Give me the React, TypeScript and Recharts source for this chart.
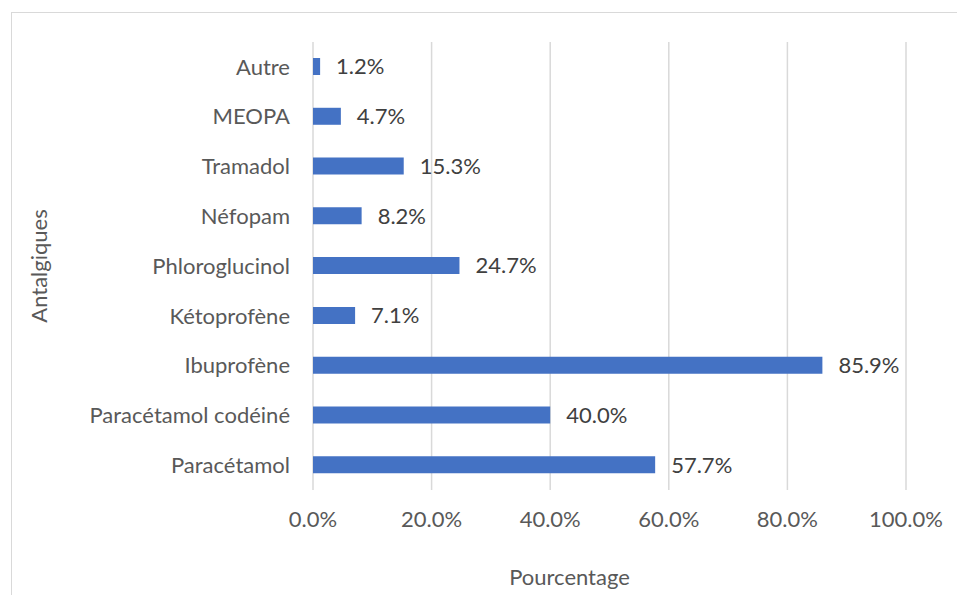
import { Bar, BarChart, CartesianGrid, LabelList, XAxis, YAxis } from "recharts";

// Antalgiques, de haut en bas
const categories = [
	"Autre",
	"MEOPA",
	"Tramadol",
	"Néfopam",
	"Phloroglucinol",
	"Kétoprofène",
	"Ibuprofène",
	"Paracétamol codéiné",
	"Paracétamol",
];
const percentages = [1.2, 4.7, 15.3, 8.2, 24.7, 7.1, 85.9, 40.0, 57.7];
const xTicks = [0, 20, 40, 60, 80, 100];

const FONT = "Lato, 'Open Sans', sans-serif";
const TEXT = "#595959";
const SIZE = 22;

const data = categories.map((name, i) => ({ name, value: percentages[i] }));

const fmt = (v: number) => `${Number(v).toFixed(1)}%`;

const XTitle = ({ viewBox }: any) => {
	const x = viewBox.x + viewBox.width / 2 - 40;
	const y = viewBox.y + 95;
	return (
		<text x={x} y={y} textAnchor="middle" fill={TEXT} fontSize={SIZE} fontFamily={FONT}>
			Pourcentage
		</text>
	);
};

const YTitle = ({ viewBox }: any) => {
	const x = viewBox.x + 28;
	const y = viewBox.y + viewBox.height / 2;
	return (
		<text
			x={x}
			y={y}
			textAnchor="middle"
			dominantBaseline="central"
			transform={`rotate(-90, ${x}, ${y})`}
			fill={TEXT}
			fontSize={SIZE}
			fontFamily={FONT}
		>
			Antalgiques
		</text>
	);
};

export default function App() {
	return (
		<div
			style={{
				position: "relative",
				width: 965,
				height: 603,
				margin: -8,
				overflow: "hidden",
				background: "#fff",
				fontFamily: FONT,
			}}
		>
			<div
				style={{
					position: "absolute",
					left: 11,
					top: 12,
					width: 1100,
					height: 800,
					border: "1.5px solid #d9d9d9",
				}}
			/>
			<div style={{ position: "absolute", left: 0, top: 0 }}>
				<BarChart
					width={965}
					height={603}
					data={data}
					layout="vertical"
					margin={{ top: 42, right: 59, left: 10, bottom: 0 }}
					barCategoryGap="66%"
				>
					<CartesianGrid horizontal={false} stroke="#d9d9d9" strokeWidth={1.5} />
					<XAxis
						type="number"
						domain={[0, 100]}
						ticks={xTicks}
						tickFormatter={fmt}
						axisLine={false}
						tickLine={false}
						tickMargin={15}
						height={113}
						tick={{ fill: TEXT, fontSize: SIZE, fontFamily: FONT }}
						label={{ content: <XTitle /> }}
					/>
					<YAxis
						type="category"
						dataKey="name"
						width={303}
						axisLine={false}
						tickLine={false}
						tickMargin={17}
						interval={0}
						tick={{ fill: TEXT, fontSize: SIZE, fontFamily: FONT }}
						label={{ content: <YTitle /> }}
					/>
					<Bar dataKey="value" fill="#4472C4" barSize={17} isAnimationActive={false}>
						<LabelList
							dataKey="value"
							position="right"
							offset={16}
							formatter={fmt}
							fill="#404040"
							fontSize={SIZE}
							fontFamily={FONT}
						/>
					</Bar>
				</BarChart>
			</div>
		</div>
	);
}
